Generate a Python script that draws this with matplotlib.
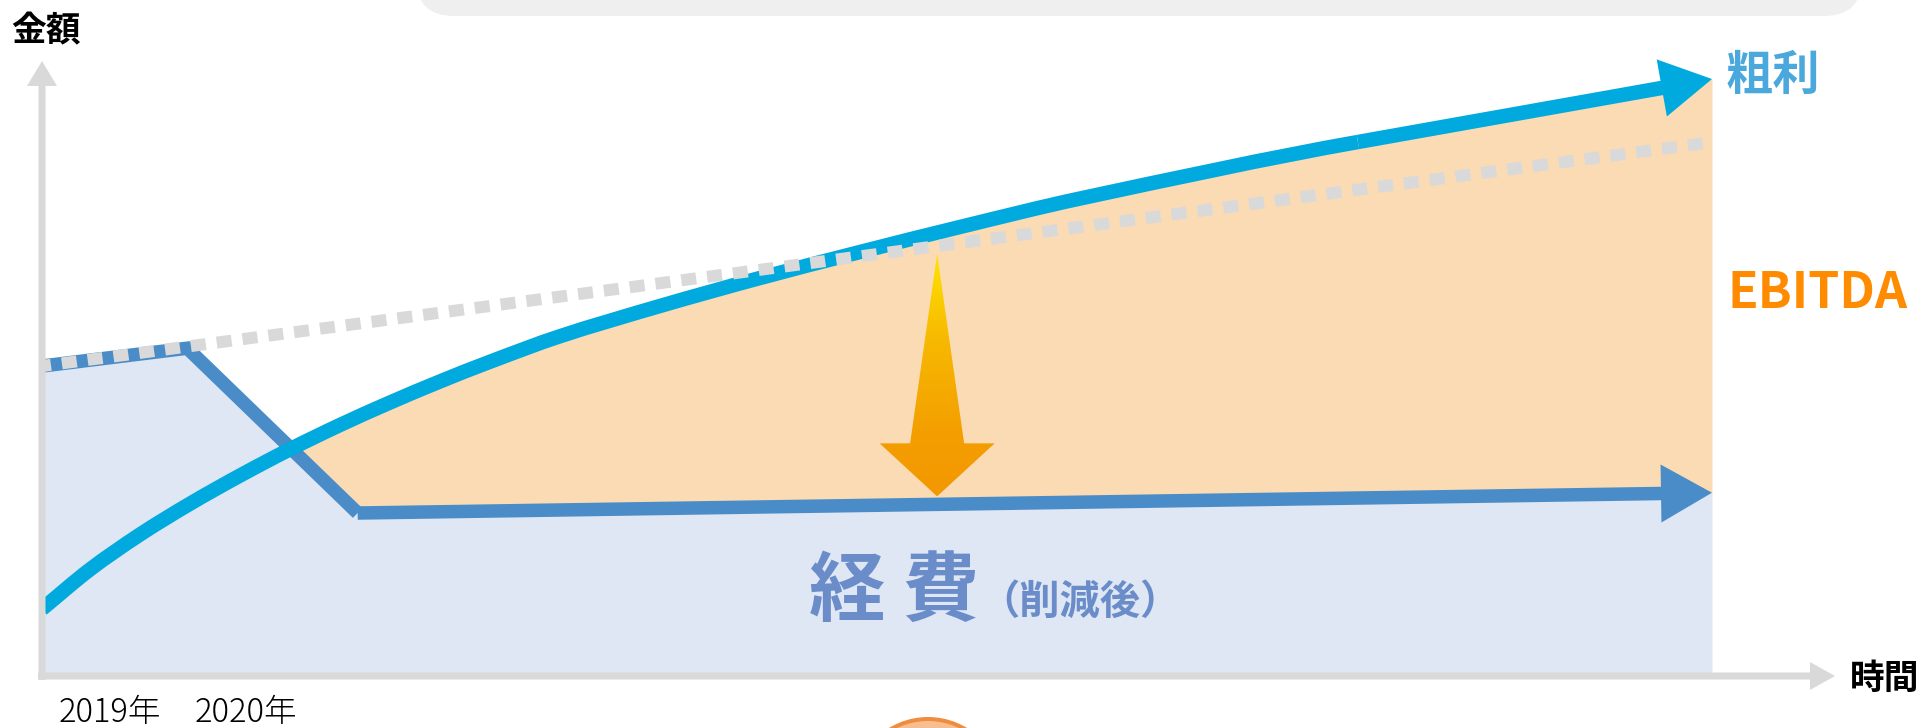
import numpy as np
import matplotlib
matplotlib.use("Agg")
import matplotlib.pyplot as plt
from matplotlib.patches import FancyArrowPatch, ArrowStyle, Polygon, FancyBboxPatch, Circle, PathPatch
from matplotlib.path import Path
from matplotlib.colors import LinearSegmentedColormap

plt.rcParams['font.family'] = ['Noto Sans CJK JP', 'DejaVu Sans']

# ---------------- data (arbitrary units 0..100) -------------
expense_x = [0.0, 8.7, 18.9, 100.0]          # 経費 (削減後)
expense_y = [50.4, 53.3, 26.5, 29.8]
baseline_x = [0.0, 100.0]                     # 経費 trend without cuts (dotted)
baseline_y = [50.4, 86.8]
gross_x = [0.0, 2.87, 5.87, 8.86, 11.86, 14.85, 17.84, 20.84, 23.83, 26.83,
           31.02, 37.0, 43.0, 48.98, 54.97, 62.16, 78.8, 100.0]            # 粗利
gross_y = [10.89, 17.32, 23.01, 28.01, 32.60, 36.87, 40.81, 44.47, 47.89, 51.10,
           55.25, 60.16, 64.72, 68.94, 73.01, 77.64, 86.83, 97.07]
year_pos = [4.07, 12.2]
year_labels = ['2019年', '2020年']
cut_arrow_x = 53.6

# ---------------- figure ---------------------------------------------------------
W, H = 1921, 728
DPI = 100
fig = plt.figure(figsize=(W / DPI, H / DPI), dpi=DPI)
ax_left, ax_right, ax_top, ax_bottom = 42, 1712, 61, 676
ax = fig.add_axes([ax_left / W, (H - ax_bottom) / H, (ax_right - ax_left) / W, (ax_bottom - ax_top) / H])
ax.patch.set_alpha(0)
for s in ax.spines.values():
    s.set_visible(False)
sx = (ax_right - ax_left) / 100.0   # px per x unit
sy = (ax_bottom - ax_top) / 100.0   # px per y unit
PX = 72.0 / DPI                      # points per pixel

C_EXP_FILL = '#DFE6F4'
C_EBIT_FILL = '#FADBB4'
C_EXP = '#4A8CC8'
C_GROSS = '#00AADE'
C_GREY = '#D9D9D9'

# fills
ax.fill_between(expense_x, 0, expense_y, color=C_EXP_FILL, lw=0, zorder=1)
xs = np.union1d(expense_x, gross_x)
e_on = np.interp(xs, expense_x, expense_y)
g_on = np.interp(xs, gross_x, gross_y)
ax.fill_between(xs, e_on, g_on, where=g_on >= e_on, interpolate=True,
                color=C_EBIT_FILL, lw=0, zorder=1.2)

# expense line with arrow
ax.plot(expense_x[:-1], expense_y[:-1], color=C_EXP, lw=13.5 * PX,
        solid_capstyle='butt', solid_joinstyle='miter', zorder=2.5)
ax.add_patch(FancyArrowPatch((expense_x[-2], expense_y[-2]), (expense_x[-1], expense_y[-1]),
                             arrowstyle=ArrowStyle.Simple(head_length=51, head_width=58, tail_width=13.5),
                             mutation_scale=PX, color=C_EXP, lw=0, shrinkA=0, shrinkB=0,
                             zorder=2.5, clip_on=False))


# gross profit line: drawn as a smooth Bezier path through the read points
def smooth_path(X, Y, upto):
    X = np.asarray(X, float)
    Y = np.asarray(Y, float)
    n = len(X)
    m = np.empty(n)
    m[0] = (Y[1] - Y[0]) / (X[1] - X[0])
    m[-1] = (Y[-1] - Y[-2]) / (X[-1] - X[-2])
    for i in range(1, n - 1):
        m[i] = (Y[i + 1] - Y[i - 1]) / (X[i + 1] - X[i - 1])
    # end of the drawn curve joins the straight arrow segment smoothly
    m[upto] = (Y[upto + 1] - Y[upto]) / (X[upto + 1] - X[upto])
    verts = [(X[0], Y[0])]
    codes = [Path.MOVETO]
    for i in range(upto):
        h = X[i + 1] - X[i]
        verts += [(X[i] + h / 3, Y[i] + m[i] * h / 3),
                  (X[i + 1] - h / 3, Y[i + 1] - m[i + 1] * h / 3),
                  (X[i + 1], Y[i + 1])]
        codes += [Path.CURVE4] * 3
    return Path(verts, codes)


ax.add_patch(PathPatch(smooth_path(gross_x, gross_y, len(gross_x) - 2), fc='none', ec=C_GROSS,
                       lw=14.5 * PX, capstyle='butt', joinstyle='round', zorder=3))
ax.add_patch(FancyArrowPatch((gross_x[-2], gross_y[-2]), (gross_x[-1], gross_y[-1]),
                             arrowstyle=ArrowStyle.Simple(head_length=51, head_width=58, tail_width=14.5),
                             mutation_scale=PX, color=C_GROSS, lw=0, shrinkA=0, shrinkB=0,
                             zorder=3, clip_on=False))

# dotted baseline
ax.plot(baseline_x, baseline_y, color=C_GREY, lw=12 * PX, linestyle=(0.5, (1.25, 0.92)),
        dash_capstyle='butt', zorder=4)

# axes arrows
ax.add_patch(FancyArrowPatch((0, -4.0 / sy), (0, 100), arrowstyle=ArrowStyle.Simple(head_length=25, head_width=30, tail_width=7),
                             mutation_scale=PX, color=C_GREY, lw=0, shrinkA=0, shrinkB=0, zorder=5, clip_on=False))
ax.add_patch(FancyArrowPatch((-4.0 / sx, 0), ((1835 - ax_left) / sx, 0),
                             arrowstyle=ArrowStyle.Simple(head_length=25, head_width=28, tail_width=7),
                             mutation_scale=PX, color=C_GREY, lw=0, shrinkA=0, shrinkB=0, zorder=5, clip_on=False))

# orange "cut" arrow between the trend line and the expense line
top_y = np.interp(cut_arrow_x, baseline_x, baseline_y) - 8 / sy
tip_y = np.interp(cut_arrow_x, expense_x, expense_y) + 8 / sy
head_h = 53 / sy
head_hw = 57.5 / sx
shaft_hw = 27 / sx
poly = Polygon([(cut_arrow_x, top_y), (cut_arrow_x + shaft_hw, tip_y + head_h),
                (cut_arrow_x + head_hw, tip_y + head_h), (cut_arrow_x, tip_y),
                (cut_arrow_x - head_hw, tip_y + head_h), (cut_arrow_x - shaft_hw, tip_y + head_h)],
               closed=True, fc='none', ec='none', zorder=6)
ax.add_patch(poly)
cmap = LinearSegmentedColormap.from_list('cut', [(0, '#FFE400'), (0.35, '#F7B900'), (0.75, '#F39E00'), (1, '#F39800')])
grad = np.linspace(0, 1, 256).reshape(-1, 1)
im = ax.imshow(grad, cmap=cmap, aspect='auto', origin='upper',
               extent=[cut_arrow_x - head_hw, cut_arrow_x + head_hw, tip_y, top_y], zorder=6)
im.set_clip_path(poly)

# x tick labels (years)
ax.set_xticks(year_pos, year_labels)
ax.set_yticks([])
ax.tick_params(axis='x', length=0, pad=14, labelsize=23.5, labelcolor='black')
for lab in ax.get_xticklabels():
    lab.set_fontweight('light')
ax.set_xlim(0, 100)
ax.set_ylim(0, 100)

# ---------------- decorations in figure space ------------------------------------
fig.add_artist(FancyBboxPatch((4.16, 7.12), 18.62 - 4.16, 1.2, boxstyle='round,pad=0,rounding_size=0.38',
                              transform=fig.dpi_scale_trans, fc='#EFEFEF', ec='none', zorder=0))
fig.add_artist(Circle((9.28, -0.64), 0.75, transform=fig.dpi_scale_trans, fc='#F08C3E', ec='none', zorder=0))
fig.add_artist(Circle((9.28, -0.64), 0.71, transform=fig.dpi_scale_trans, fc='#F7BE92', ec='none', zorder=0))


def ftext(x, y, s, **kw):
    fig.text(x / W, 1 - y / H, s, **kw)


ftext(46.5, 31, '金額', fontsize=25, fontweight='bold', color='black', ha='center', va='center')
ftext(1884.5, 678, '時間', fontsize=25, fontweight='bold', color='black', ha='center', va='center')
ftext(1773, 75.5, '粗利', fontsize=34, fontweight='bold', color='#4AA8DD', ha='center', va='center')
ftext(1818, 294, 'EBITDA', fontsize=36, fontweight='bold', color='#FF8C00', ha='center', va='center')
ftext(894.5, 592, '経 費', fontsize=55, fontweight='bold', color='#6A8DCA', ha='center', va='center')
ftext(1080, 602, '（削減後）', fontsize=29, fontweight='bold', color='#6A8DCA', ha='center', va='center')

fig.savefig('out.png', dpi=DPI)
